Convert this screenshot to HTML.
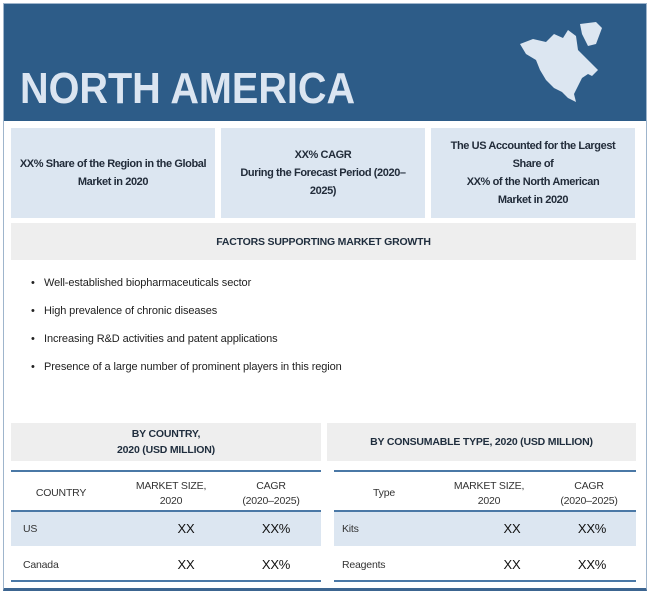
<!DOCTYPE html>
<html><head><meta charset="utf-8"><style>
body{margin:0;width:650px;height:595px;background:#fff;font-family:"Liberation Sans",sans-serif;position:relative;overflow:hidden;color:#1f2d3d}
div{position:absolute;box-sizing:border-box}
.box{background:#dce6f1;top:128px;height:90px;display:flex;align-items:center;justify-content:center;text-align:center;font-size:11px;letter-spacing:-0.4px;font-weight:bold;line-height:18px;color:#222c3a}
.bul{left:44px;font-size:11px;color:#222;letter-spacing:-0.1px}
.bul:before{content:"•";position:absolute;left:-13px}
.th{background:#eeeeee;top:423px;height:38px;display:flex;align-items:center;justify-content:center;text-align:center;font-size:10.5px;font-weight:bold;line-height:16px;letter-spacing:-0.2px}
.c{font-size:10.5px;text-align:center;line-height:15px;color:#333;letter-spacing:-0.2px}
.v{font-size:13px;color:#111}
</style></head><body>
<div style="left:3px;top:3px;width:644px;height:588px;border:1px solid #9fb5cc;border-bottom:3px solid #3c6590"></div>
<div style="left:4px;top:4px;width:642px;height:117px;background:#2d5c88"></div>
<div style="left:20px;top:64px;font-size:44px;font-weight:bold;color:#dbe5f1;transform:scaleX(0.9);transform-origin:left">NORTH AMERICA</div>
<svg style="position:absolute;left:518px;top:22px" width="95" height="90" viewBox="0 0 95 90"><path d="M2 22 L15 17 L28 20 L36 12 L45 16 L50 8 L58 14 L60 28 L66 34 L72 40 L80 48 L74 54 L70 52 L64 56 L60 64 L56 72 L58 80 L50 76 L44 70 L36 66 L28 58 L22 48 L18 38 L8 32 Z" fill="#dce6f1"/><path d="M62 2 L78 0 L84 6 L78 22 L70 24 L64 12 Z" fill="#dce6f1"/></svg>
<div class="box" style="left:11px;width:204px">XX% Share of the Region in the Global<br>Market in 2020</div>
<div class="box" style="left:221px;width:204px">XX% CAGR<br>During the Forecast Period (2020–<br>2025)</div>
<div class="box" style="left:431px;width:204px">The US Accounted for the Largest<br>Share of<br>XX% of the North American<br>Market in 2020</div>
<div class="th" style="left:11px;width:625px;top:223px;height:37px">FACTORS SUPPORTING MARKET GROWTH</div>
<div class="bul" style="top:277px">Well-established biopharmaceuticals sector</div>
<div class="bul" style="top:305px">High prevalence of chronic diseases</div>
<div class="bul" style="top:333px">Increasing R&amp;D activities and patent applications</div>
<div class="bul" style="top:361px">Presence of a large number of prominent players in this region</div>
<div class="th" style="left:11px;width:310px">BY COUNTRY,<br>2020 (USD MILLION)</div>
<div class="th" style="left:327px;width:309px">BY CONSUMABLE TYPE, 2020 (USD MILLION)</div>
<div style="left:11px;top:470px;width:310px;height:112px;border-top:2px solid #4a78a6;border-bottom:2px solid #4a78a6">
 <div class="c" style="left:0;width:100px;top:14px">COUNTRY</div>
 <div class="c" style="left:110px;width:100px;top:7px">MARKET SIZE,<br>2020</div>
 <div class="c" style="left:210px;width:100px;top:7px">CAGR<br>(2020–2025)</div>
 <div style="left:0;top:38px;width:310px;height:36px;background:#dce6f1;border-top:2px solid #4a78a6"></div>
 <div class="c" style="left:12px;top:50px;text-align:left">US</div>
 <div class="c v" style="left:150px;width:50px;top:49px">XX</div>
 <div class="c v" style="left:240px;width:50px;top:49px">XX%</div>
 <div class="c" style="left:12px;top:86px;text-align:left">Canada</div>
 <div class="c v" style="left:150px;width:50px;top:85px">XX</div>
 <div class="c v" style="left:240px;width:50px;top:85px">XX%</div>
</div>
<div style="left:334px;top:470px;width:302px;height:112px;border-top:2px solid #4a78a6;border-bottom:2px solid #4a78a6">
 <div class="c" style="left:0;width:100px;top:14px">Type</div>
 <div class="c" style="left:105px;width:100px;top:7px">MARKET SIZE,<br>2020</div>
 <div class="c" style="left:205px;width:100px;top:7px">CAGR<br>(2020–2025)</div>
 <div style="left:0;top:38px;width:302px;height:36px;background:#dce6f1;border-top:2px solid #4a78a6"></div>
 <div class="c" style="left:8px;top:50px;text-align:left">Kits</div>
 <div class="c v" style="left:153px;width:50px;top:49px">XX</div>
 <div class="c v" style="left:233px;width:50px;top:49px">XX%</div>
 <div class="c" style="left:8px;top:86px;text-align:left">Reagents</div>
 <div class="c v" style="left:153px;width:50px;top:85px">XX</div>
 <div class="c v" style="left:233px;width:50px;top:85px">XX%</div>
</div>
</body></html>
